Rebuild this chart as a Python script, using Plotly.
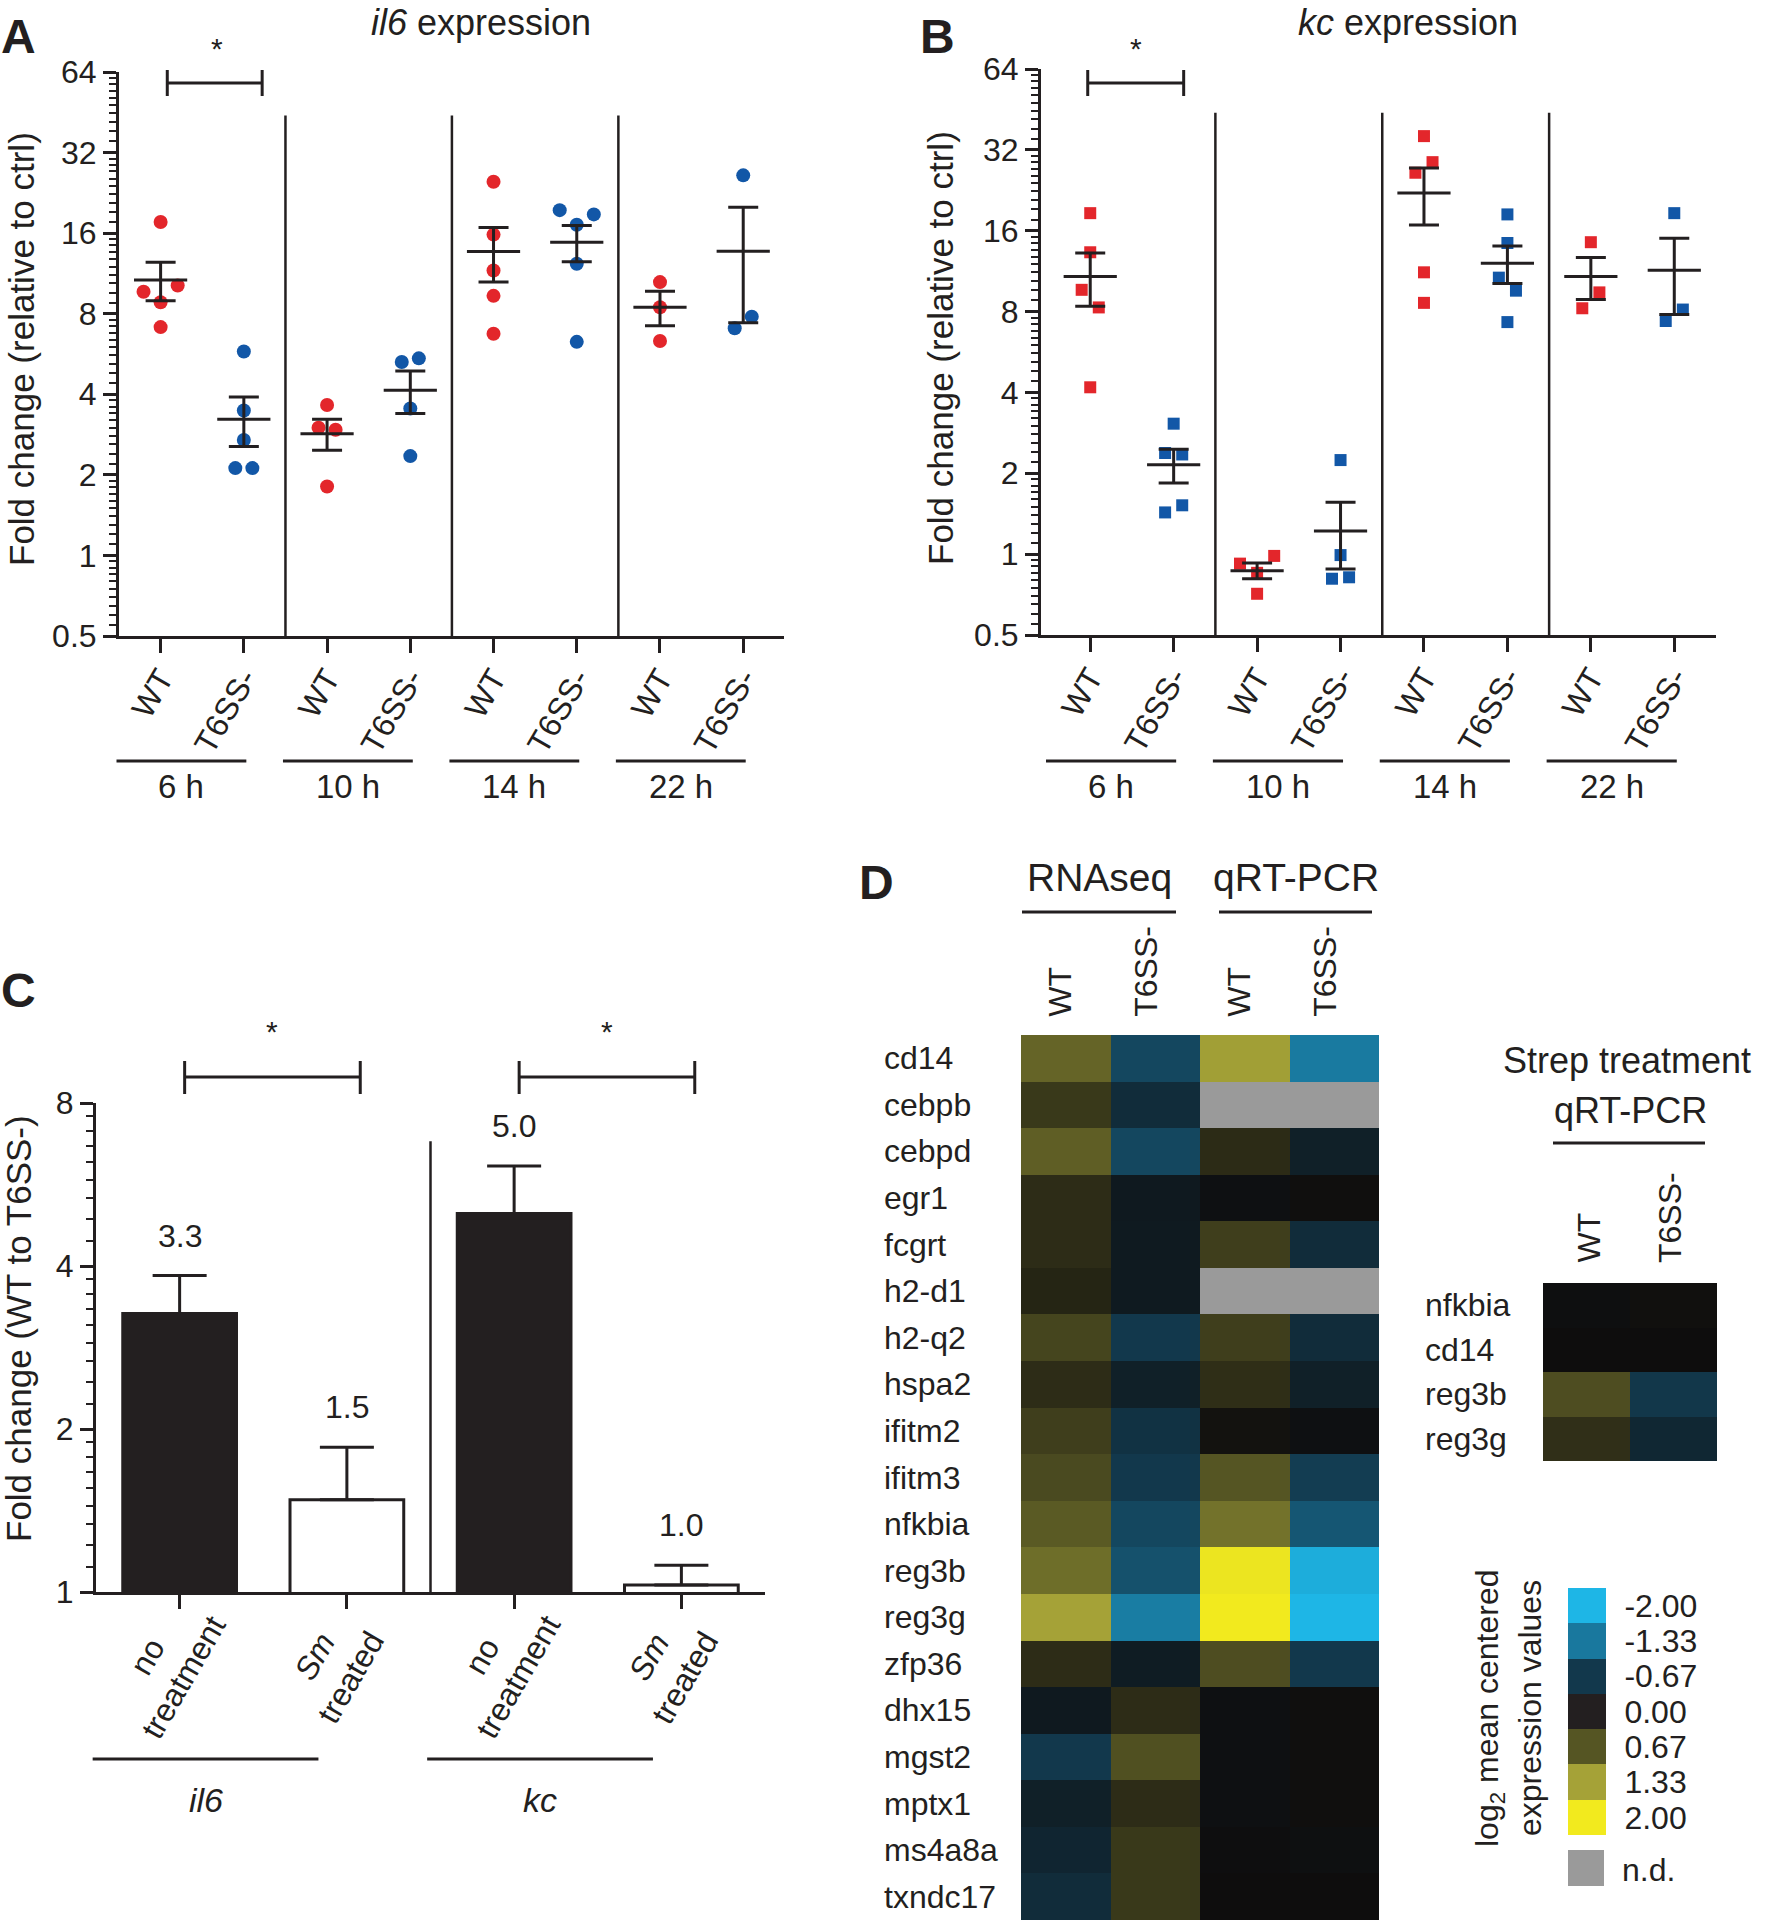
import numpy as np
import plotly.graph_objects as go

W, H = 1766, 1920
INK = '#231f20'
RED = '#e3262b'
BLUE = '#1257a7'
FONT = 'Liberation Sans, Arial, Helvetica, sans-serif'
BOLD = 'Liberation Sans Narrow, Liberation Sans, Arial, sans-serif'

# ----------------------------- data -----------------------------
time_labels = ['6 h', '10 h', '14 h', '22 h']
strain_labels = ['WT', 'T6SS-']

# panel A: il6 fold change, groups ordered 6h WT, 6h T6SS-, 10h WT, ...
il6_points = [
    [17.6, 9.67, 8.83, 10.2, 7.13],
    [5.78, 3.48, 2.70, 2.12, 2.12],
    [3.65, 3.00, 2.95, 1.81],
    [5.28, 5.45, 3.54, 2.35],
    [24.9, 15.8, 11.6, 9.33, 6.73],
    [19.5, 17.2, 18.8, 12.3, 6.28],
    [10.5, 8.46, 6.33],
    [26.3, 7.06, 7.80],
]
il6_mean = [10.7, 3.23, 2.85, 4.14, 13.65, 14.8, 8.46, 13.7]
il6_sem = [1.75, 0.68, 0.38, 0.75, 3.15, 2.30, 1.24, 6.30]

# panel B: kc fold change
kc_points = [
    [18.6, 13.3, 9.64, 8.29, 4.18],
    [3.06, 2.38, 2.35, 1.43, 1.52],
    [0.922, 0.852, 0.985, 0.712],
    [2.24, 0.992, 0.81, 0.82],
    [36.0, 26.3, 28.8, 11.2, 8.62],
    [18.4, 14.4, 10.7, 9.57, 7.31],
    [14.5, 8.23, 9.43],
    [18.6, 7.38, 8.14],
]
kc_mean = [10.8, 2.15, 0.868, 1.22, 22.1, 12.1, 10.8, 11.4]
kc_sem = [2.43, 0.31, 0.058, 0.34, 5.3, 1.93, 1.93, 3.6]

# panel C: WT to T6SS- ratio
c_genes = ['il6', 'kc']
c_treatments = ['no<br>treatment', '<i>Sm</i><br>treated']
c_ratio = [3.27, 1.48, 5.0, 1.03]
c_err = [0.57, 0.37, 1.12, 0.09]

# panel D: log2 mean centered expression (None = n.d.)
heat_genes = ['cd14', 'cebpb', 'cebpd', 'egr1', 'fcgrt', 'h2-d1', 'h2-q2', 'hspa2',
              'ifitm2', 'ifitm3', 'nfkbia', 'reg3b', 'reg3g', 'zfp36', 'dhx15',
              'mgst2', 'mptx1', 'ms4a8a', 'txndc17']
heat_cols = ['WT', 'T6SS-', 'WT', 'T6SS-']
rnaseq_wt = [0.80, 0.41, 0.75, 0.29, 0.29, 0.22, 0.52, 0.29, 0.46, 0.57, 0.71, 0.88, 1.33,
             0.29, -0.19, -0.67, -0.29, -0.38, -0.48]
rnaseq_t6ss = [-0.82, -0.48, -0.82, -0.19, -0.20, -0.20, -0.67, -0.29, -0.57, -0.67, -0.82,
               -0.93, -1.38, -0.23, 0.29, 0.62, 0.29, 0.41, 0.41]
qpcr_wt = [1.30, None, 0.28, -0.05, 0.46, None, 0.46, 0.31, 0.05, 0.67, 0.92, 1.95, 2.00,
           0.60, -0.05, -0.05, -0.05, -0.02, 0.0]
qpcr_t6ss = [-1.35, None, -0.29, 0.02, -0.48, None, -0.48, -0.29, -0.05, -0.72, -0.98, -1.90,
             -2.00, -0.67, 0.02, 0.02, 0.02, -0.04, 0.0]

strep_genes = ['nfkbia', 'cd14', 'reg3b', 'reg3g']
strep_wt = [-0.03, 0.0, 0.60, 0.32]
strep_t6ss = [0.03, 0.0, -0.65, -0.40]

legend_levels = [-2.00, -1.33, -0.67, 0.00, 0.67, 1.33, 2.00]


# ----------------------------- helpers -----------------------------
def py2y(py):
    return 1 - py / H


class Frame:
    def __init__(s, x0, x1, xlo, xhi, ytop, ybot, vtop, vbot):
        s.x0, s.x1, s.xlo, s.xhi = x0, x1, xlo, xhi
        s.ytop, s.ybot, s.vtop, s.vbot = ytop, ybot, vtop, vbot

    def xp(s, c):
        return (s.x0 + (c - s.xlo) / (s.xhi - s.xlo) * (s.x1 - s.x0)) / W

    def ypx(s, v):
        f = (np.log2(v) - np.log2(s.vbot)) / (np.log2(s.vtop) - np.log2(s.vbot))
        return s.ybot - f * (s.ybot - s.ytop)

    def yp(s, v):
        return py2y(s.ypx(v))

    def xdom(s):
        return [s.x0 / W, s.x1 / W]

    def ydom(s):
        return [1 - s.ybot / H, 1 - s.ytop / H]


def swarm_offsets(vals, thresh=0.24, step=0.205):
    lv = np.log2(np.asarray(vals, dtype=float))
    order = list(np.argsort(lv, kind='stable'))
    clusters, cur = [], [order[0]]
    for a, b in zip(order[:-1], order[1:]):
        if lv[b] - lv[a] < thresh:
            cur.append(b)
        else:
            clusters.append(cur)
            cur = [b]
    clusters.append(cur)
    off = np.zeros(len(vals))
    for cl in clusters:
        cl = sorted(cl)
        n = len(cl)
        for i, idx in enumerate(cl):
            off[idx] = (i - (n - 1) / 2) * step
    return off


def minor_vals(lo, hi, n):
    out = []
    b = lo
    while b < hi - 1e-9:
        out += [b * (1 + k / n) for k in range(1, n)]
        b *= 2
    return out


fA = Frame(119, 784, -0.5, 7.49, 72, 636, 64, 0.5)
fB = Frame(1041, 1716, -0.59, 7.5, 69, 635, 64, 0.5)
fC = Frame(96, 765, -0.5, 3.5, 1103, 1592, 8, 1)

fig = go.Figure()
shapes = []
ann = []


def line(x0, y0, x1, y1, w=3):
    shapes.append(dict(type='line', xref='paper', yref='paper', x0=x0, y0=y0, x1=x1, y1=y1,
                       line=dict(color=INK, width=w)))


def text(x, y, s, size=32, xanchor='center', yanchor='middle', angle=0, family=FONT, **kw):
    d = dict(x=x, y=y, text=s, showarrow=False, xanchor=xanchor, yanchor=yanchor,
             textangle=angle, font=dict(family=family, size=size, color=INK))
    d.setdefault('xref', 'paper')
    d.setdefault('yref', 'paper')
    d.update(kw)
    ann.append(d)


# ----------------------------- panels A and B -----------------------------
def dot_panel(frame, points, means, sems, symbol, size, xa, ya):
    for strain_i, color in enumerate([RED, BLUE]):
        xs, ys = [], []
        for g in range(strain_i, len(points), 2):
            offs = swarm_offsets(points[g])
            xs += list(g + offs)
            ys += list(points[g])
        fig.add_trace(go.Scatter(x=xs, y=ys, mode='markers', xaxis=xa, yaxis=ya,
                                 marker=dict(symbol=symbol, size=size, color=color,
                                             line=dict(width=0)),
                                 hoverinfo='skip'))
    fig.add_trace(go.Scatter(x=list(range(len(means))), y=means, mode='markers',
                             xaxis=xa, yaxis=ya,
                             marker=dict(symbol='line-ew', size=38,
                                         line=dict(color=INK, width=3)),
                             error_y=dict(type='data', array=sems, color=INK,
                                          thickness=3, width=15),
                             hoverinfo='skip'))
    for sep in [1.5, 3.5, 5.5]:
        line(frame.xp(sep), frame.yp(0.5), frame.xp(sep), frame.yp(44), 2.5)
    for gi, lab in enumerate(time_labels):
        a, b = frame.xp(2 * gi - 0.53), frame.xp(2 * gi + 1.03)
        line(a, py2y(761), b, py2y(761), 3)
        text((a + b) / 2, py2y(786), lab, size=33)


def y_log_axis(frame, tickvals, ticktext, nminor, anchor):
    return dict(type='log', range=[np.log10(frame.vbot), np.log10(frame.vtop)],
                domain=frame.ydom(), anchor=anchor, showline=True, linewidth=3,
                linecolor=INK, ticks='outside', ticklen=13, tickwidth=3, tickcolor=INK,
                tickmode='array', tickvals=tickvals, ticktext=ticktext,
                tickfont=dict(size=32, color=INK, family=FONT), showgrid=False,
                zeroline=False, automargin=False,
                minor=dict(tickmode='array', tickvals=minor_vals(frame.vbot, frame.vtop, nminor),
                           ticks='outside', ticklen=7, tickwidth=2, tickcolor=INK,
                           showgrid=False))


def x_cat_axis(frame, ticktext, anchor, labels=True):
    return dict(range=[frame.xlo, frame.xhi], domain=frame.xdom(), anchor=anchor,
                showline=True, linewidth=3, linecolor=INK, ticks='outside', ticklen=14,
                tickwidth=3, tickcolor=INK, tickmode='array',
                tickvals=list(range(len(ticktext))), ticktext=ticktext, tickangle=-60,
                showticklabels=labels, ticklabelstandoff=-6,
                tickfont=dict(size=32, color=INK, family=FONT), showgrid=False,
                zeroline=False, automargin=False)


dot_panel(fA, il6_points, il6_mean, il6_sem, 'circle', 14, 'x', 'y')
dot_panel(fB, kc_points, kc_mean, kc_sem, 'square', 12, 'x2', 'y2')

ab_ticks = [0.5, 1, 2, 4, 8, 16, 32, 64]
ab_text = ['0.5', '1', '2', '4', '8', '16', '32', '64']

for frame, c0, c1, sx in [(fA, 0.08, 1.22, 217), (fB, -0.03, 1.12, 1136)]:
    a, b = frame.xp(c0), frame.xp(c1)
    line(a, py2y(83), b, py2y(83), 3)
    line(a, py2y(70), a, py2y(96), 3)
    line(b, py2y(70), b, py2y(96), 3)
    text(sx / W, py2y(48), '*', size=30)

# ----------------------------- panel C -----------------------------
fig.add_trace(go.Bar(x=[0, 1, 2, 3], y=c_ratio, width=0.68, xaxis='x3', yaxis='y3',
                     marker=dict(color=[INK, 'white', INK, 'white'],
                                 line=dict(color=INK, width=3)),
                     error_y=dict(type='data', symmetric=False, array=c_err,
                                  arrayminus=[0] * 4, color=INK, thickness=3, width=27),
                     hoverinfo='skip'))
for i, (v, e) in enumerate(zip(c_ratio, c_err)):
    text(i, np.log10(v + e), f'{v:.1f}', size=32, xref='x3', yref='y3', yshift=40)

c_ticktext = c_treatments * 2
for i, t in enumerate(c_ticktext):
    text(i, py2y(1667), t, size=32, angle=-60, xref='x3', xshift=-14, align='center')

line(fC.xp(1.5), fC.yp(1), fC.xp(1.5), fC.yp(6.8), 2.5)
for gi, g in enumerate(c_genes):
    a, b = fC.xp(2 * gi + 0.03), fC.xp(2 * gi + 1.08)
    line(a, py2y(1077), b, py2y(1077), 3)
    line(a, py2y(1061), a, py2y(1094), 3)
    line(b, py2y(1061), b, py2y(1094), 3)
    text((a + b) / 2, py2y(1031), '*', size=30)
    la, lb = fC.xp(2 * gi - 0.52), fC.xp(2 * gi + 0.83)
    line(la, py2y(1759), lb, py2y(1759), 3)
    text((la + lb) / 2, py2y(1800), f'<i>{g}</i>', size=34)

# ----------------------------- panel D -----------------------------
HEAT = [[0.0, 'rgb(30,182,230)'], [0.1675, 'rgb(25,120,158)'], [0.3325, 'rgb(18,56,76)'],
        [0.5, 'rgb(14,13,13)'], [0.6675, 'rgb(85,85,35)'], [0.8325, 'rgb(165,162,55)'],
        [1.0, 'rgb(242,234,30)']]
LEG = [[0.0, 'rgb(30,182,230)'], [0.1675, 'rgb(25,120,158)'], [0.3325, 'rgb(18,56,76)'],
       [0.5, 'rgb(35,31,32)'], [0.6675, 'rgb(85,85,35)'], [0.8325, 'rgb(165,162,55)'],
       [1.0, 'rgb(242,234,30)']]
GRAY = [[0, '#9a9a9a'], [1, '#9a9a9a']]

cols = [rnaseq_wt, rnaseq_t6ss, qpcr_wt, qpcr_t6ss]
z = [[cols[c][r] for c in range(4)] for r in range(len(heat_genes))]
z_nd = [[1 if v is None else None for v in row] for row in z]
fig.add_trace(go.Heatmap(z=z_nd, x=[0, 1, 2, 3], y=heat_genes, colorscale=GRAY,
                         showscale=False, xaxis='x4', yaxis='y4', hoverinfo='skip'))
fig.add_trace(go.Heatmap(z=z, x=[0, 1, 2, 3], y=heat_genes, colorscale=HEAT, zmin=-2,
                         zmax=2, showscale=False, xaxis='x4', yaxis='y4', hoverinfo='skip'))

zs = [[w, t] for w, t in zip(strep_wt, strep_t6ss)]
fig.add_trace(go.Heatmap(z=zs, x=[0, 1], y=strep_genes, colorscale=HEAT, zmin=-2, zmax=2,
                         showscale=False, xaxis='x5', yaxis='y5', hoverinfo='skip'))

leg_labels = [f'{v:.2f}' for v in legend_levels]
fig.add_trace(go.Heatmap(z=[[v] for v in legend_levels], x=[0], y=leg_labels, colorscale=LEG,
                         zmin=-2, zmax=2, showscale=False, xaxis='x6', yaxis='y6',
                         hoverinfo='skip'))

for g in heat_genes:
    text(882 / W, g, g, size=32, xanchor='left', yref='y4')
for i, c in enumerate(heat_cols):
    text(i, py2y(1019), c, size=32, angle=-90, yanchor='bottom', xref='x4',
         xshift=-6 if c == 'WT' else -10)
text(1099 / W, py2y(877), 'RNAseq', size=39)
text(1296 / W, py2y(877), 'qRT-PCR', size=39)
line(1022 / W, py2y(912), 1176 / W, py2y(912), 3)
line(1219 / W, py2y(912), 1372 / W, py2y(912), 3)

text(1627 / W, py2y(1060), 'Strep treatment', size=36)
text(1630 / W, py2y(1110), 'qRT-PCR', size=36)
line(1553 / W, py2y(1143), 1705 / W, py2y(1143), 3)
for i, c in enumerate(strain_labels):
    text(i, py2y(1265), c, size=32, angle=-90, yanchor='bottom', xref='x5',
         xshift=2 if c == 'WT' else -4)
for g in strep_genes:
    text(1423 / W, g, g, size=32, xanchor='left', yref='y5')

text(1489 / W, py2y(1708), 'log<sub>2</sub> mean centered', size=32, angle=-90)
text(1530 / W, py2y(1708), 'expression values', size=32, angle=-90)
shapes.append(dict(type='rect', xref='paper', yref='paper', x0=1568 / W, x1=1604 / W,
                   y0=py2y(1886), y1=py2y(1850), fillcolor='#9a9a9a', line=dict(width=0)))
text(1620 / W, py2y(1870), 'n.d.', size=32, xanchor='left')

# ----------------------------- titles & panel letters -----------------------------
text(18 / W, py2y(36), '<b>A</b>', size=48, family=BOLD)
text(938 / W, py2y(36), '<b>B</b>', size=48, family=BOLD)
text(18 / W, py2y(990), '<b>C</b>', size=48, family=BOLD)
text(876 / W, py2y(882), '<b>D</b>', size=48, family=BOLD)
text(481 / W, py2y(22), '<i>il6</i> expression', size=36)
text(1408 / W, py2y(22), '<i>kc</i> expression', size=36)
text(21 / W, py2y(349), 'Fold change (relative to ctrl)', size=35, angle=-90)
text(940 / W, py2y(348), 'Fold change (relative to ctrl)', size=35, angle=-90)
text(18 / W, py2y(1329), 'Fold change (WT to T6SS-)', size=35, angle=-90)

hidden = dict(visible=False, showgrid=False, zeroline=False, automargin=False)

fig.update_layout(
    template='none',
    width=W, height=H, margin=dict(l=0, r=0, t=0, b=0, pad=0), autosize=False,
    paper_bgcolor='white', plot_bgcolor='rgba(0,0,0,0)', showlegend=False,
    font=dict(family=FONT, color=INK),
    xaxis=x_cat_axis(fA, strain_labels * 4, 'y'),
    yaxis=y_log_axis(fA, ab_ticks, ab_text, 10, 'x'),
    xaxis2=x_cat_axis(fB, strain_labels * 4, 'y2'),
    yaxis2=y_log_axis(fB, ab_ticks, ab_text, 10, 'x2'),
    xaxis3=x_cat_axis(fC, c_ticktext, 'y3', labels=False),
    yaxis3=y_log_axis(fC, [1, 2, 4, 8], ['1', '2', '4', '8'], 9, 'x3'),
    xaxis4=dict(domain=[1021 / W, 1379 / W], anchor='y4', range=[-0.5, 3.5], **hidden),
    yaxis4=dict(domain=[0, py2y(1035)], anchor='x4', autorange='reversed', visible=False,
                showgrid=False, zeroline=False, type='category', automargin=False),
    xaxis5=dict(domain=[1543 / W, 1717 / W], anchor='y5', range=[-0.5, 1.5], **hidden),
    yaxis5=dict(domain=[py2y(1461), py2y(1283)], anchor='x5', autorange='reversed',
                visible=False, showgrid=False, zeroline=False, type='category',
                automargin=False),
    xaxis6=dict(domain=[1568 / W, 1606 / W], anchor='y6', range=[-0.5, 0.5], **hidden),
    yaxis6=dict(domain=[py2y(1835), py2y(1588)], anchor='x6', autorange='reversed',
                type='category', side='right', showline=False, showgrid=False,
                zeroline=False, ticks='outside', ticklen=11, tickcolor='rgba(0,0,0,0)',
                tickmode='array', tickvals=leg_labels, ticktext=leg_labels,
                automargin=False, tickfont=dict(size=32, color=INK, family=FONT)),
    shapes=shapes, annotations=ann,
)

fig.write_html('out.html', config={'displayModeBar': False, 'staticPlot': True},
               post_script="document.body.style.margin='0px';")
